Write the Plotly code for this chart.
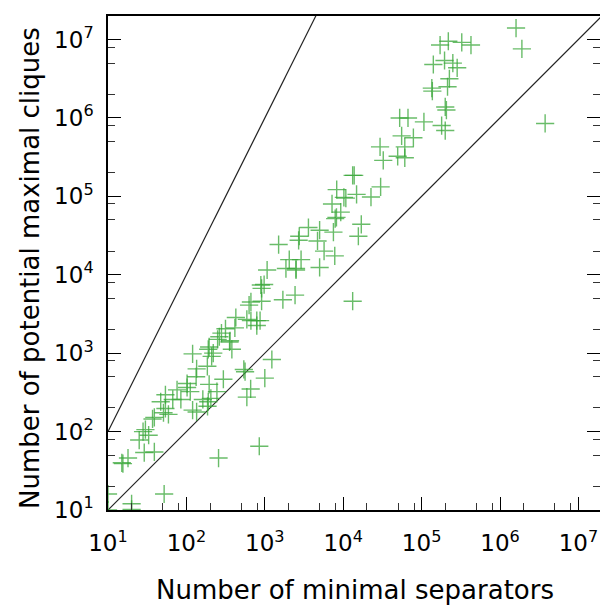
import plotly.graph_objects as go

# Number of minimal separators (x) and potential maximal cliques (y)
sep = [10, 10, 20, 20, 52, 15, 18, 15.5, 29, 39, 25, 28, 33, 30, 37, 39, 51, 59, 54, 47,
       54, 67, 85, 76, 102, 112, 102, 120, 135, 135, 133, 120, 190, 220, 210, 185, 195, 162,
       190, 205, 186, 245, 296, 380, 355, 257, 540, 560, 660, 590, 1000, 1230, 850, 280,
       3600, 5000, 7500, 2750, 2700, 4700, 1500, 5700, 7800, 2050, 2900, 1860, 2500, 2500,
       5000, 1070, 890, 980, 910, 665, 910, 630, 1700, 2430, 13200, 427, 590, 665, 790, 870,
       790, 315, 415, 263, 250, 360, 195,
       55600, 78500, 61000, 29500, 32400, 49500, 61000, 107000, 180000, 200000, 52500, 67000,
       13800, 13200, 8260, 10800, 10200, 14800, 22600, 30000, 7200, 9300, 8200, 7900, 17000,
       15600,
       1.6e6, 1.9e6, 3.76e6, 172000, 219000, 325000, 426000, 141000, 196000, 250000, 284000,
       226000, 135000, 137000, 214000, 200000, 207000]
pmc = [16, 10, 12, 10.2, 16, 40, 46, 39, 54, 55, 78, 100, 90, 106, 145, 152, 174, 166, 197, 240,
       295, 257, 257, 340, 410, 323, 365, 188, 178, 630, 500, 980, 1120, 1000, 910, 680, 400, 257,
       240, 265, 210, 323, 465, 1120, 1390, 46, 620, 580, 350, 275, 480, 830, 65, 1800,
       40000, 37000, 35000, 31000, 27500, 27000, 24300, 20000, 17400, 15600, 15600, 12000, 12000, 11500,
       12400, 11500, 7400, 7500, 6700, 4500, 4600, 4100, 4800, 5500, 4600, 2850, 2700, 2600, 2600, 2600,
       2250, 2050, 2100, 1620, 1500, 1440, 1200,
       590000, 560000, 427000, 427000, 288000, 324000, 310000, 890000, 800000, 690000, 1e6, 1e6,
       185000, 185000, 122000, 95000, 97000, 106000, 98000, 132000, 80000, 63000, 54000, 52000, 44000,
       31000,
       1.4e7, 7.6e6, 850000, 8.5e6, 9.5e6, 9.2e6, 8.5e6, 4.8e6, 5.4e6, 5e6, 4.36e6,
       3.16e6, 2.4e6, 2.2e6, 2.5e6, 1.38e6, 1.26e6]

ref_x = [10, 1e8]
ref_lin = [v for v in ref_x]          # y = x
ref_sq = [v * v for v in ref_x]       # y = x^2

tick_vals = [1e1, 1e2, 1e3, 1e4, 1e5, 1e6, 1e7]
tick_text = ["10<sup>%d</sup>" % k for k in range(1, 8)]
minor_vals = [m * 10 ** k for k in range(1, 8) for m in (2, 5, 8)]

fig = go.Figure()
fig.add_trace(go.Scatter(x=ref_x, y=ref_lin, mode="lines",
                         line=dict(color="#222222", width=1.2), hoverinfo="skip"))
fig.add_trace(go.Scatter(x=ref_x, y=ref_sq, mode="lines",
                         line=dict(color="#222222", width=1.2), hoverinfo="skip"))
fig.add_trace(go.Scatter(x=sep, y=pmc, mode="markers",
                         marker=dict(symbol="cross-thin", size=13,
                                     line=dict(color="rgba(55,165,55,0.75)", width=1.4))))

axis_common = dict(
    type="log", showgrid=False, zeroline=False, automargin=False,
    showline=True, linecolor="black", linewidth=1.5,
    ticks="inside", ticklen=13, tickwidth=1.2, tickcolor="black",
    tickvals=tick_vals, ticktext=tick_text,
    minor=dict(tickvals=minor_vals, ticks="inside", ticklen=7, tickwidth=1, tickcolor="#333333"),
    tickfont=dict(family="DejaVu Sans", size=23, color="black"),
)

fig.update_layout(
    width=600, height=606,
    margin=dict(l=108, r=0, t=16, b=96),
    paper_bgcolor="white", plot_bgcolor="white",
    showlegend=False,
    xaxis=dict(range=[1, 7.275], mirror=True, ticklabelstandoff=12, **axis_common),
    yaxis=dict(range=[1, 7.3], mirror="ticks", ticklabelstandoff=8, **axis_common),
    annotations=[
        dict(text="Number of minimal separators", xref="paper", yref="paper",
             x=(355 - 108) / 492, y=-(590 - 510) / 494, xanchor="center", yanchor="middle",
             showarrow=False, font=dict(family="DejaVu Sans", size=26, color="black")),
        dict(text="Number of potential maximal cliques", xref="paper", yref="paper",
             x=-(108 - 30) / 492, y=(510 - 268) / 494, xanchor="center", yanchor="middle",
             textangle=-90, showarrow=False,
             font=dict(family="DejaVu Sans", size=26, color="black")),
    ],
)

fig.write_html("out.html", config={"displayModeBar": False},
               post_script="document.body.style.margin='0';document.body.style.overflow='hidden';")
